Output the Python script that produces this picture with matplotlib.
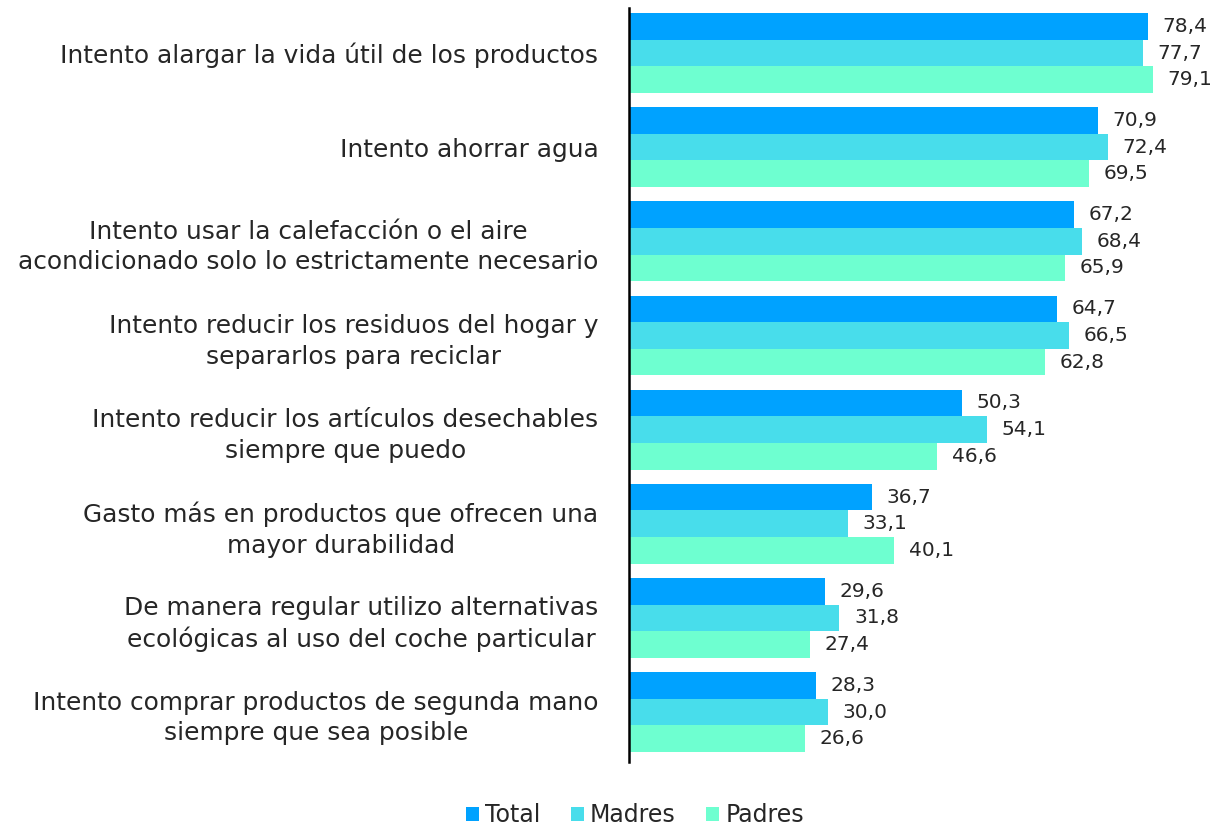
import matplotlib
matplotlib.use('Agg')
import matplotlib.pyplot as plt
import numpy as np

categorias = [
    'Intento alargar la vida útil de los productos',
    'Intento ahorrar agua',
    'Intento usar la calefacción o el aire\nacondicionado solo lo estrictamente necesario',
    'Intento reducir los residuos del hogar y\nsepararlos para reciclar',
    'Intento reducir los artículos desechables\nsiempre que puedo',
    'Gasto más en productos que ofrecen una\nmayor durabilidad',
    'De manera regular utilizo alternativas\necológicas al uso del coche particular',
    'Intento comprar productos de segunda mano\nsiempre que sea posible',
]
total = [78.4, 70.9, 67.2, 64.7, 50.3, 36.7, 29.6, 28.3]
madres = [77.7, 72.4, 68.4, 66.5, 54.1, 33.1, 31.8, 30.0]
padres = [79.1, 69.5, 65.9, 62.8, 46.6, 40.1, 27.4, 26.6]

series = ['Total', 'Madres', 'Padres']
colores = ['#00A2FF', '#48DDEB', '#6EFFD0']

plt.rcParams['font.family'] = ['DejaVu Sans']
plt.rcParams['text.color'] = '#262626'

fig = plt.figure(figsize=(12.3, 8.26), dpi=100)
ax = fig.add_axes([629 / 1230, 1 - 762 / 826, 1 - 629 / 1230, 754 / 826])

ind = np.arange(len(categorias))
h = 0.283
for k, (vals, nombre, c) in enumerate(zip([total, madres, padres], series, colores)):
    y = ind + (k - 1) * h
    ax.barh(y, vals, height=h, color=c, label=nombre)
    for yi, v in zip(y, vals):
        ax.text(v + 2.2, yi, f'{v:.1f}'.replace('.', ','), va='center', ha='left',
                fontsize=14.5, color='#262626')

ax.set_xlim(0, 90.8)
ax.set_ylim(7.53, -0.478)
ax.set_yticks(ind)
ax.set_yticklabels(categorias, fontsize=17.9, color='#262626',
                   multialignment='center', linespacing=1.35)
ax.tick_params(axis='y', length=0, pad=22)
ax.set_xticks([])
for s in ['top', 'right', 'bottom']:
    ax.spines[s].set_visible(False)
ax.spines['left'].set_linewidth(1.8)
ax.spines['left'].set_color('black')

fig.legend(loc='center', bbox_to_anchor=(635 / 1230, 1 - 815 / 826), ncol=3, frameon=False,
           fontsize=17, handlelength=0.55, handleheight=0.55, handletextpad=0.25,
           columnspacing=1.3)

fig.savefig('out.png', dpi=100)
